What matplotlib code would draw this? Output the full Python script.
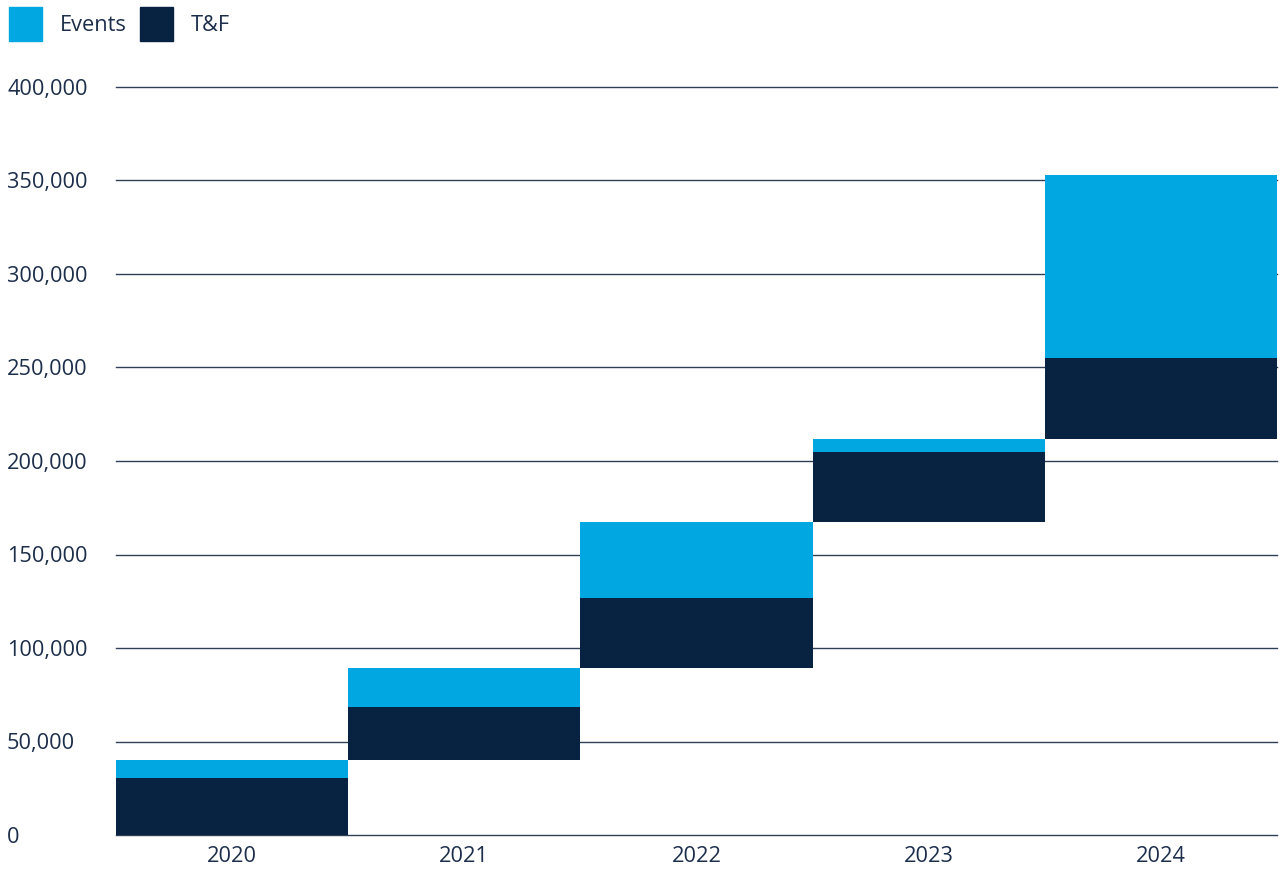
import matplotlib
matplotlib.use("Agg")
import matplotlib.pyplot as plt
import matplotlib.transforms as mtransforms
from matplotlib.patches import Rectangle

plt.rcParams["font.family"] = ["Open Sans", "DejaVu Sans"]

years = ["2020", "2021", "2022", "2023", "2024"]
tf_values = [30500, 28300, 37400, 37400, 43300]
events_values = [9600, 20900, 40600, 7000, 98000]
y_ticks = [0, 50000, 100000, 150000, 200000, 250000, 300000, 350000, 400000]

EVENTS_COLOR = "#00a7e1"
TF_COLOR = "#082342"
TEXT_COLOR = "#1c2e4a"
GRID_COLOR = "#2f3f55"
FONT_SIZE = 15.7

W, H = 1281, 869
fig = plt.figure(figsize=(W / 100, H / 100), dpi=100)
ax = fig.add_axes([116 / W, 1 - 835 / H, (1277 - 116) / W, (835 - 87) / H])

# waterfall: each year starts where the previous one ended
base = 0
for i, (tf, ev) in enumerate(zip(tf_values, events_values)):
    ax.bar(i, tf, bottom=base, width=1.0, color=TF_COLOR, zorder=3, linewidth=0)
    ax.bar(i, ev, bottom=base + tf, width=1.0, color=EVENTS_COLOR, zorder=3, linewidth=0)
    base += tf + ev

ax.set_xlim(-0.5, len(years) - 0.5)
ax.set_ylim(0, 400000)
for t in y_ticks:
    ax.axhline(t, color=GRID_COLOR, linewidth=1.0, zorder=1, clip_on=False)

for s in ax.spines.values():
    s.set_visible(False)
ax.set_yticks([])
ax.set_xticks(range(len(years)))
ax.set_xticklabels(years, fontsize=FONT_SIZE, color=TEXT_COLOR)
ax.tick_params(axis="x", length=0, pad=8)

trans = mtransforms.blended_transform_factory(fig.transFigure, ax.transData)
for t in y_ticks:
    ax.text(7 / W, t, f"{t:,}", transform=trans, ha="left", va="center_baseline",
            fontsize=FONT_SIZE, color=TEXT_COLOR, clip_on=False)

# legend drawn by hand at the top left
for x0, color, label, tx in [(9, EVENTS_COLOR, "Events", 60), (140, TF_COLOR, "T&F", 191)]:
    fig.patches.append(Rectangle((x0 / W, 1 - 41 / H), 33 / W, 34 / H,
                                 transform=fig.transFigure, color=color))
    fig.text(tx / W, 1 - 23 / H, label, ha="left", va="center_baseline",
             fontsize=FONT_SIZE, color=TEXT_COLOR)

fig.savefig("out.png", dpi=100)
